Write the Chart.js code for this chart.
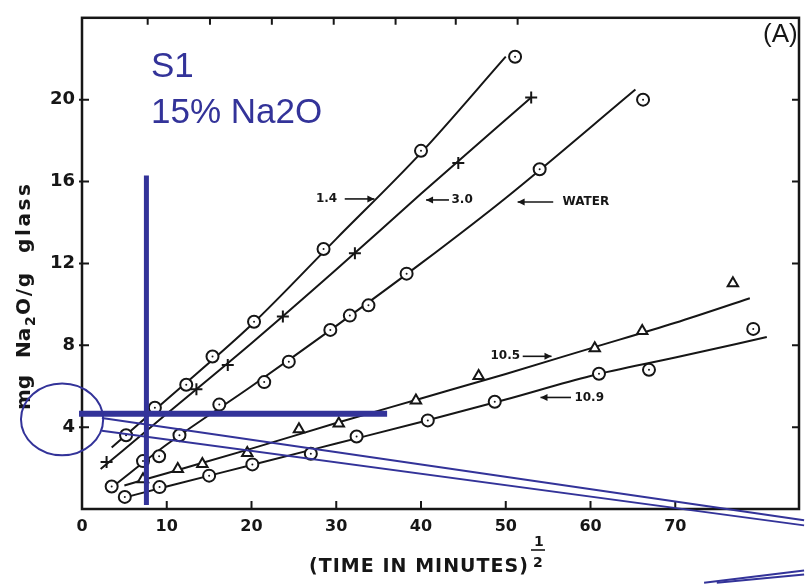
<!DOCTYPE html>
<html>
<head>
<meta charset="utf-8">
<script src="https://cdn.jsdelivr.net/npm/chart.js@4.4.1/dist/chart.umd.min.js"></script>
<style>
    html, body { margin: 0; padding: 0; background: #fff; }
    #wrap { width: 807px; height: 584px; }
</style>
</head>
<body>
<div id="wrap"><canvas id="chart" width="807" height="584"></canvas></div>
<script>
// 刻度
const xTicks = [0, 10, 20, 30, 40, 50, 60, 70];
const yTicks = [4, 8, 12, 16, 20];
const topTicks = [7.75, 15.1, 22.4, 29.7, 37.0, 44.1, 51.4];

// pH 1.4 (圆点)
const x14 = [5.2, 8.6, 12.3, 15.4, 20.3, 28.5, 40.0, 51.1];
const y14 = [3.6, 4.95, 6.07, 7.45, 9.15, 12.7, 17.5, 22.1];
// pH 3.0 (十字)
const x30 = [2.9, 13.5, 17.2, 23.7, 32.2, 44.4, 53.0];
const y30 = [2.3, 5.85, 7.04, 9.4, 12.5, 16.9, 20.1];
// water (圆点)
const xW = [3.5, 7.2, 9.1, 11.5, 16.2, 21.5, 24.4, 29.3, 31.6, 33.8, 38.3, 54.0, 66.2];
const yW = [1.1, 2.34, 2.58, 3.6, 5.1, 6.2, 7.2, 8.75, 9.45, 9.95, 11.5, 16.6, 20.0];
// pH 10.5 (三角)
const x105 = [7.2, 11.3, 14.2, 19.5, 25.6, 30.3, 39.4, 46.8, 60.5, 66.1, 76.8];
const y105 = [1.45, 1.95, 2.2, 2.74, 3.9, 4.18, 5.3, 6.5, 7.85, 8.7, 11.03];
// pH 10.9 (圆点)
const x109 = [5.05, 9.15, 15.0, 20.1, 27.0, 32.4, 40.8, 48.7, 61.0, 66.9, 79.2];
const y109 = [0.59, 1.07, 1.63, 2.18, 2.7, 3.54, 4.33, 5.24, 6.61, 6.8, 8.8];

// 拟合曲线（从图上读出的节点）
const fit14x = [3.5, 10, 20, 30, 40, 50];
const fit14y = [3.0, 5.35, 9.0, 13.2, 17.4, 22.1];
const fit30x = [2.2, 10, 20, 30, 40, 53];
const fit30y = [1.95, 4.65, 8.1, 11.7, 15.4, 20.1];
const fitWx = [3.5, 10, 20, 30, 40, 50, 65.3];
const fitWy = [1.05, 3.15, 6.0, 8.95, 12.0, 15.2, 20.5];
const fit105x = [5, 10, 20, 30, 40, 50, 60, 70, 78.8];
const fit105y = [1.15, 1.75, 2.95, 4.2, 5.4, 6.6, 7.85, 9.1, 10.3];
const fit109x = [4.5, 10, 20, 30, 40, 50, 60, 70, 80.8];
const fit109y = [0.5, 1.1, 2.15, 3.2, 4.25, 5.35, 6.5, 7.4, 8.4];

const INK = '#161616';
const BLUE = '#333399';

function pairs(xs, ys) {
    return xs.map((x, i) => ({ x: x, y: ys[i] }));
}

function fitLine(xs, ys) {
    return {
        data: pairs(xs, ys),
        showLine: true,
        borderColor: INK,
        borderWidth: 2,
        pointRadius: 0,
        cubicInterpolationMode: 'monotone',
        order: 3
    };
}

function markers(xs, ys, style, r) {
    return {
        data: pairs(xs, ys),
        showLine: false,
        pointStyle: style,
        pointRadius: r,
        pointBackgroundColor: '#fff',
        pointBorderColor: INK,
        pointBorderWidth: 2,
        order: 2
    };
}

function dots(xs, ys) {
    return {
        data: pairs(xs, ys),
        showLine: false,
        pointRadius: 1,
        pointBackgroundColor: INK,
        pointBorderWidth: 0,
        order: 1
    };
}

// 曲线旁的标注: [文字, 文字x, y, 箭头起点x, 箭头终点x]
const curveLabels = [
    ['1.4', 27.6, 15.15, 31.0, 34.5],
    ['3.0', 43.6, 15.1, 43.3, 40.6],
    ['WATER', 56.7, 15.0, 55.6, 51.4],
    ['10.5', 48.2, 7.46, 52.0, 55.4],
    ['10.9', 58.1, 5.45, 57.7, 54.1]
];

// 蓝色批注（数据坐标）
const mark = {
    vx: 7.6, vy0: 0.2, vy1: 16.3,
    hy: 4.65, hx0: -0.35, hx1: 36.0,
    ecx: -2.35, ecy: 4.38, erx: 4.85, ery: 1.754,
    lines: [
        [2.35, 4.45, 85.2, -0.55],
        [2.35, 3.82, 85.2, -0.8],
        [73.4, -3.6, 85.2, -3.0],
        [74.9, -3.6, 85.2, -3.2]
    ]
};

function spacedText(ctx, text, x, y, width) {
    // 按目标宽度拉开字距
    ctx.letterSpacing = '0px';
    const w = ctx.measureText(text).width;
    const gap = text.length > 1 ? Math.max(0, (width - w) / (text.length - 1)) : 0;
    ctx.letterSpacing = gap + 'px';
    ctx.fillText(text, x, y);
    ctx.letterSpacing = '0px';
}

const paperPlugin = {
    id: 'paper',
    afterDatasetsDraw(chart) {
        const ctx = chart.ctx;
        const a = chart.chartArea;
        const xs = chart.scales.x;
        const ys = chart.scales.y;
        ctx.save();
        ctx.strokeStyle = INK;
        ctx.lineWidth = 2.5;
        ctx.strokeRect(a.left, a.top, a.right - a.left, a.bottom - a.top);

        // 内向刻度
        ctx.lineWidth = 2;
        ctx.beginPath();
        xTicks.forEach(v => {
            if (v === 0) return;
            const p = xs.getPixelForValue(v);
            ctx.moveTo(p, a.bottom);
            ctx.lineTo(p, a.bottom - 8);
        });
        topTicks.forEach(v => {
            const p = xs.getPixelForValue(v);
            ctx.moveTo(p, a.top);
            ctx.lineTo(p, a.top + 7);
        });
        yTicks.forEach(v => {
            const p = ys.getPixelForValue(v);
            ctx.moveTo(a.left - 3, p);
            ctx.lineTo(a.left + 7, p);
            ctx.moveTo(a.right, p);
            ctx.lineTo(a.right - 7, p);
        });
        ctx.stroke();

        // 曲线标注
        ctx.fillStyle = INK;
        ctx.font = 'bold 12px "DejaVu Sans"';
        ctx.textBaseline = 'middle';
        ctx.lineWidth = 1.6;
        curveLabels.forEach(l => {
            const y = ys.getPixelForValue(l[2]);
            ctx.fillText(l[0], xs.getPixelForValue(l[1]), y);
            const x0 = xs.getPixelForValue(l[3]);
            const x1 = xs.getPixelForValue(l[4]);
            const dir = x1 > x0 ? 1 : -1;
            ctx.beginPath();
            ctx.moveTo(x0, y);
            ctx.lineTo(x1, y);
            ctx.stroke();
            ctx.beginPath();
            ctx.moveTo(x1, y);
            ctx.lineTo(x1 - dir * 7, y - 3.5);
            ctx.lineTo(x1 - dir * 7, y + 3.5);
            ctx.closePath();
            ctx.fill();
        });

        // 坐标轴标题
        ctx.textBaseline = 'alphabetic';
        ctx.font = 'bold 19px "DejaVu Sans"';
        spacedText(ctx, '(TIME IN MINUTES)', 309, 572, 219);
        ctx.font = 'bold 14px "DejaVu Sans"';
        ctx.fillText('1', 534, 546);
        ctx.fillText('2', 533, 567);
        ctx.beginPath();
        ctx.moveTo(531, 550);
        ctx.lineTo(545, 550);
        ctx.stroke();

        ctx.translate(30, 410);
        ctx.rotate(-Math.PI / 2);
        ctx.font = 'bold 20px "DejaVu Sans"';
        ctx.fillText('mg', 0, 0);
        spacedText(ctx, 'Na', 52, 0, 30);
        ctx.font = 'bold 14px "DejaVu Sans"';
        ctx.fillText('2', 84, 5);
        ctx.font = 'bold 20px "DejaVu Sans"';
        spacedText(ctx, 'O/g', 95, 0, 42);
        spacedText(ctx, 'glass', 157, 0, 69);
        ctx.restore();
    },
    afterDraw(chart) {
        const ctx = chart.ctx;
        const xs = chart.scales.x;
        const ys = chart.scales.y;
        const px = v => xs.getPixelForValue(v);
        const py = v => ys.getPixelForValue(v);
        ctx.save();
        ctx.fillStyle = INK;
        ctx.font = '26px "Liberation Sans"';
        ctx.fillText('(A)', 763, 42);

        // 蓝色批注
        ctx.strokeStyle = BLUE;
        ctx.fillStyle = BLUE;
        ctx.lineWidth = 5;
        ctx.beginPath();
        ctx.moveTo(px(mark.vx), py(mark.vy0));
        ctx.lineTo(px(mark.vx), py(mark.vy1));
        ctx.stroke();
        ctx.lineWidth = 6;
        ctx.beginPath();
        ctx.moveTo(px(mark.hx0), py(mark.hy));
        ctx.lineTo(px(mark.hx1), py(mark.hy));
        ctx.stroke();

        ctx.lineWidth = 2;
        ctx.beginPath();
        const rx = px(mark.ecx + mark.erx) - px(mark.ecx);
        const ry = py(mark.ecy) - py(mark.ecy + mark.ery);
        ctx.ellipse(px(mark.ecx), py(mark.ecy), rx, ry, 0, 0, Math.PI * 2);
        ctx.stroke();
        mark.lines.forEach(l => {
            ctx.beginPath();
            ctx.moveTo(px(l[0]), py(l[1]));
            ctx.lineTo(px(l[2]), py(l[3]));
            ctx.stroke();
        });

        ctx.font = '35px "Liberation Sans"';
        ctx.fillText('S1', 151, 77);
        ctx.fillText('15% Na2O', 151, 123);
        ctx.restore();
    }
};

new Chart(document.getElementById('chart'), {
    type: 'scatter',
    data: {
        datasets: [
            fitLine(fit14x, fit14y),
            fitLine(fit30x, fit30y),
            fitLine(fitWx, fitWy),
            fitLine(fit105x, fit105y),
            fitLine(fit109x, fit109y),
            markers(x14, y14, 'circle', 6),
            markers(x30, y30, 'cross', 6),
            markers(xW, yW, 'circle', 6),
            markers(x105, y105, 'triangle', 6),
            markers(x109, y109, 'circle', 6),
            dots(x14, y14),
            dots(xW, yW),
            dots(x109, y109)
        ]
    },
    options: {
        responsive: false,
        devicePixelRatio: 1,
        animation: false,
        layout: { padding: { top: 7, right: 4, left: 0, bottom: 0 } },
        plugins: {
            legend: { display: false },
            tooltip: { enabled: false }
        },
        scales: {
            x: {
                type: 'linear',
                min: 0,
                max: 84.6,
                afterBuildTicks: s => { s.ticks = xTicks.map(v => ({ value: v })); },
                afterFit: s => { s.height = 75; },
                grid: { display: false, drawTicks: false },
                border: { display: false },
                ticks: {
                    padding: 8,
                    color: INK,
                    autoSkip: false,
                    maxRotation: 0,
                    font: { family: 'DejaVu Sans', size: 16, weight: 'bold' }
                }
            },
            y: {
                type: 'linear',
                min: 0,
                max: 24,
                afterBuildTicks: s => { s.ticks = yTicks.map(v => ({ value: v })); },
                afterFit: s => { s.width = 82; },
                grid: { display: false, drawTicks: false },
                border: { display: false },
                ticks: {
                    padding: 7,
                    color: INK,
                    autoSkip: false,
                    font: { family: 'DejaVu Sans', size: 18, weight: 'bold' }
                }
            }
        }
    },
    plugins: [paperPlugin]
});
</script>
</body>
</html>
